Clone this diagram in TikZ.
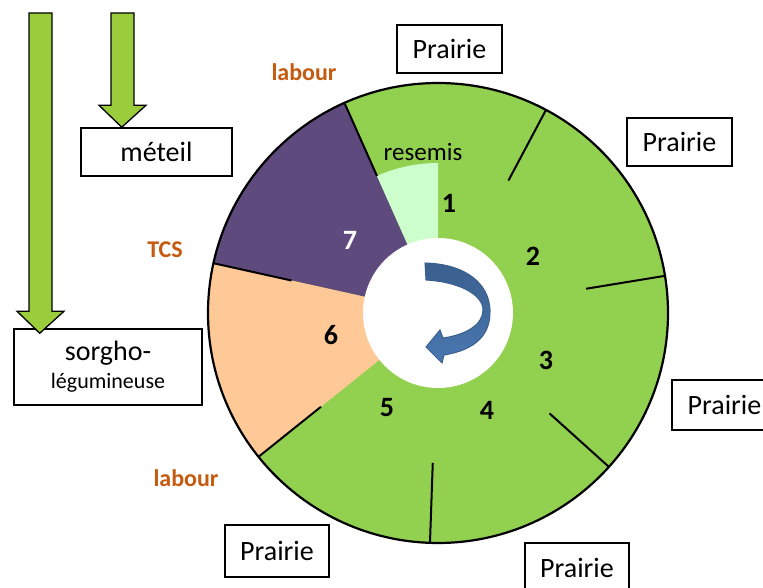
\documentclass[tikz,border=0pt]{standalone}
\usepackage{fontspec}
\setmainfont{Carlito}
\usetikzlibrary{calc}
\definecolor{wheelgreen}{HTML}{92D050}
\definecolor{resemisgreen}{HTML}{CCFFCC}
\definecolor{metpurple}{HTML}{5F4A7D}
\definecolor{sorghopeach}{HTML}{FFC997}
\definecolor{labourorange}{HTML}{C55A11}
\definecolor{arrowgreen}{HTML}{9ACC3C}
\definecolor{turnblue}{HTML}{4A78B0}
\definecolor{turndark}{HTML}{3A5F8E}
\begin{document}
\begin{tikzpicture}[x=1pt, y=1pt,
	box/.style={draw=black, line width=1.5pt, fill=white, minimum width=105pt, minimum height=48pt, inner sep=0pt, font=\fontsize{28}{32}\selectfont},
	num/.style={font=\fontsize{28}{32}\selectfont\bfseries, inner sep=0pt},
	act/.style={text=labourorange, font=\fontsize{24}{28}\selectfont\bfseries, inner sep=0pt},
	spoke/.style={line width=2pt, black},
	blockarrow/.style={draw=black, line width=1.3pt, fill=arrowgreen, line join=miter}]
	\useasboundingbox (0,0) rectangle (763,587);
	\fill[white] (0,0) rectangle (763,587);

	% rotation wheel
	\begin{scope}[shift={(438,274)}]
		\fill[wheelgreen] (0,0) circle (230);
		\fill[metpurple] (0,0) -- (114:230) arc (114:167.5:230) -- cycle;
		\fill[sorghopeach] (0,0) -- (167.5:230) arc (167.5:218.7:230) -- cycle;
		\fill[resemisgreen] (0,0) -- (90:150) arc (90:114:150) -- cycle;
		\fill[white] (0,0) circle (75);
		\foreach \a in {114, 62, 9.3, -42, -92, 218.7, 167.5}
			\draw[spoke] (\a:150) -- (\a:230);
		\draw[line width=2.2pt] (0,0) circle (230);
	\end{scope}

	% turning arrow
	\draw[turndark, line width=1pt, top color=turndark, bottom color=turnblue]
		(425,324) -- (426,307) .. controls (460,305) and (483,292) .. (483,277)
		.. controls (483,262) and (465,252) .. (443,249) -- (440,257) -- (426,240)
		-- (442,224) -- (444,232) .. controls (475,237) and (491,252) .. (490,277)
		.. controls (489,304) and (465,323) .. (425,324) -- cycle;

	\node (resemis) at (423,435) {\fontsize{25}{28}\selectfont resemis};
	\node[num] (n-1) at (449,384) {1};
	\node[num] (n-2) at (533,331) {2};
	\node[num] (n-3) at (546,227) {3};
	\node[num] (n-4) at (487,177) {4};
	\node[num] (n-5) at (387,179) {5};
	\node[num] (n-6) at (331,252) {6};
	\node[num, text=white] (n-7) at (350,347) {7};

	\node[act] (labour-top) at (304,515) {labour};
	\node[act] (tcs) at (165,337) {TCS};
	\node[act] (labour-bottom) at (186,109) {labour};

	% prairie years
	\node[box] (prairie-top) at (449.5,538) {Prairie};
	\node[box] (prairie-right) at (679.5,445) {Prairie};
	\node[box, minimum height=50pt] (prairie-far) at (724.5,182) {Prairie};
	\node[box, minimum width=104pt, minimum height=52pt] (prairie-left) at (277,36) {Prairie};
	\node[box, minimum width=104pt, minimum height=50pt] (prairie-low) at (577,19) {Prairie};

	% catch crops
	\node[box, minimum width=151pt] (meteil) at (156.5,435) {méteil};
	\node[box, minimum width=188pt, minimum height=76pt, align=center] (sorgho) at (108,220)
		{sorgho-\\[-4pt]{\fontsize{22}{26}\selectfont légumineuse}};

	\coordinate (meteil-src) at (122.5,574);
	\coordinate (meteil-tip) at ($(meteil.north west)+(41.5,0)$);
	\coordinate (sorgho-src) at (40.5,574);
	\coordinate (sorgho-tip) at ($(sorgho.north west)+(26.5,-5)$);
	\foreach \src/\tip in {meteil-src/meteil-tip, sorgho-src/sorgho-tip}
		\draw[blockarrow] let \p1=(\src), \p2=(\tip) in
			(\x1-11.5pt,\y1) -- (\x1-11.5pt,\y2+22pt) -- (\x1-23.5pt,\y2+22pt) -- (\x2,\y2)
			-- (\x1+23.5pt,\y2+22pt) -- (\x1+11.5pt,\y2+22pt) -- (\x1+11.5pt,\y1) -- cycle;
\end{tikzpicture}
\end{document}
